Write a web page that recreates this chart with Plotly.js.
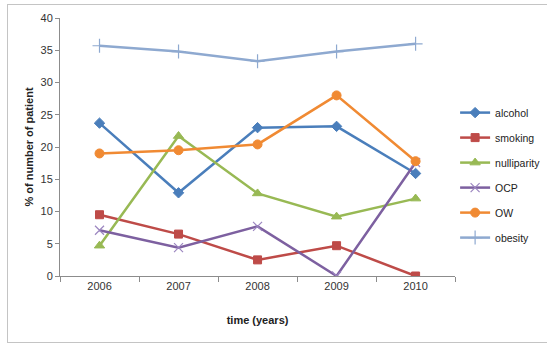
<!DOCTYPE html>
<html>
<head>
<meta charset="utf-8">
<script src="https://cdn.plot.ly/plotly-3.0.1.min.js"></script>
<style>
html,body{margin:0;padding:0;background:#fff;overflow:hidden;}
#wrap{position:relative;width:547px;height:343px;overflow:hidden;}
#chart{position:absolute;left:0;top:0;width:547px;height:343px;}
#frame{position:absolute;left:7px;top:4px;width:600px;height:337px;border-top:1px solid #c4c4c4;border-left:1px solid #c4c4c4;border-bottom:1px solid #c4c4c4;pointer-events:none;}
</style>
</head>
<body>
<div id="wrap"><div id="chart"></div><div id="frame"></div></div>
<script>
const years = ['2006','2007','2008','2009','2010'];
const alcohol = [23.7, 12.9, 23.0, 23.2, 15.9];
const smoking = [9.5, 6.5, 2.5, 4.7, 0];
const nulliparity = [4.7, 21.7, 12.8, 9.2, 12.0];
const ocp = [7.1, 4.4, 7.7, 0, 17.6];
const ow = [19.0, 19.5, 20.4, 28.0, 17.8];
const obesity = [35.7, 34.8, 33.3, 34.8, 36.0];
const yTicks = [0,5,10,15,20,25,30,35,40];

function tr(name, y, color, symbol, size, width) {
  return {
    x: years, y: y, name: name, type: 'scatter', mode: 'lines+markers',
    legendgroup: name,
    line: {color: color, width: width},
    marker: {color: color, symbol: symbol, size: size, line: {color: color, width: 1}}
  };
}
const data = [
  tr('alcohol', alcohol, '#4A7EBB', 'diamond', 8, 2.5),
  tr('smoking', smoking, '#BE4B48', 'square', 8, 2.5),
  tr('nulliparity', nulliparity, '#98B954', 'triangle-up', 9, 2.5),
  tr('OCP', ocp, '#7D60A0', 'x-thin', 9, 2.5),
  tr('OW', ow, '#F08A33', 'circle', 9, 2.5),
  tr('obesity', obesity, '#8EA9D0', 'cross-thin', 10, 2.5)
];
data[3].marker.line = {color: '#9c86c0', width: 1.2};
data[5].marker.line = {color: '#8EA9D0', width: 1.2};

const layout = {
  width: 547, height: 343,
  margin: {l: 60, r: 87, t: 18, b: 67},
  paper_bgcolor: '#fff', plot_bgcolor: '#fff',
  font: {family: 'Liberation Sans, Arial, sans-serif', size: 11, color: '#333'},
  showlegend: true,
  legend: {xref: 'container', yref: 'container', x: 0.832, xanchor: 'left', y: 0.714, yanchor: 'top',
           tracegroupgap: 6, font: {size: 10.5, color: '#222'}, itemwidth: 30, bgcolor: 'rgba(0,0,0,0)'},
  xaxis: {
    type: 'category', range: [-0.5, 4.5], showgrid: false, zeroline: false,
    showline: true, linecolor: '#8c8c8c', linewidth: 1,
    ticks: 'outside', tickson: 'boundaries', ticklen: 5, tickcolor: '#8c8c8c',
    tickfont: {size: 11, color: '#333'},
    title: {text: '<b>time (years)</b>', font: {size: 11, color: '#222'}, standoff: 25}
  },
  yaxis: {
    range: [0, 40], tickvals: yTicks, showgrid: false, zeroline: false,
    showline: true, linecolor: '#8c8c8c', linewidth: 1,
    ticks: 'outside', ticklen: 4, tickcolor: '#8c8c8c',
    tickfont: {size: 11, color: '#333'},
    title: {text: '<b>% of number of patient</b>', font: {size: 11, color: '#222'}, standoff: 4}
  }
};
Plotly.newPlot('chart', data, layout, {displayModeBar: false, staticPlot: true});
</script>
</body>
</html>
